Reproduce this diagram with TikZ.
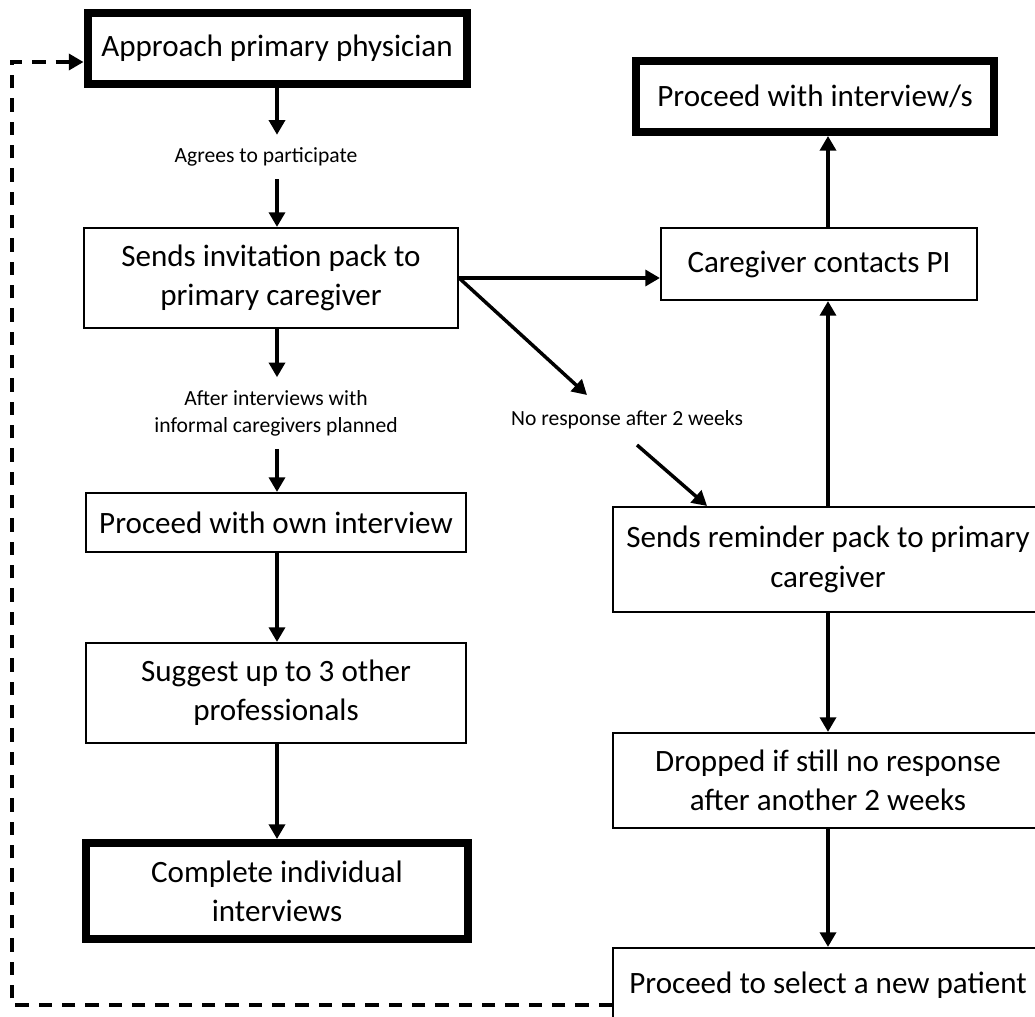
\documentclass[tikz,border=0pt]{standalone}
\usepackage{fontspec}
\setmainfont{Carlito}
\usetikzlibrary{arrows.meta}

\begin{document}
\begin{tikzpicture}[x=0.75pt,y=0.75pt,yscale=-1,xscale=1,
        box/.style={draw,line width=1.6pt,align=center,inner sep=0pt,font=\fontsize{23.3}{29.5}\selectfont},
        thickbox/.style={box,line width=6pt},
        note/.style={align=center,inner xsep=0pt,inner ysep=9.5pt,font=\fontsize{16.2}{20.25}\selectfont},
        conn/.style={line width=2.6pt,-{Triangle[width=12pt,length=11pt]}},
        dashconn/.style={conn,dash pattern=on 10pt off 7.5pt}]
        \useasboundingbox (0,0) rectangle (1035,1017);
        \clip (0,0) rectangle (1035,1017);
        % Left column
        \node [thickbox,minimum width=284.25pt,minimum height=53.25pt] (approach) at (277,48.5) {Approach primary physician};
        % Text Node
        \node [note] (agrees) at (266,157) {Agrees to participate};
        \node [box,minimum width=280.5pt,minimum height=75pt] (invite) at (271,278) {Sends invitation pack to\\primary caregiver};
        % Text Node
        \node [note] (planned) at (276,413) {After interviews with\\informal caregivers planned};
        \node [box,minimum width=285pt,minimum height=44.25pt] (own) at (276,522.5) {Proceed with own interview};
        \node [box,minimum width=285pt,minimum height=75pt] (suggest) at (276,693) {Suggest up to 3 other\\professionals};
        \node [thickbox,minimum width=286.5pt,minimum height=72pt] (complete) at (277,891) {Complete individual\\interviews};
        % Right column
        \node [thickbox,minimum width=268.5pt,minimum height=53.25pt] (interview) at (815,96.5) {Proceed with interview/s};
        \node [box,minimum width=237pt,minimum height=54pt] (contacts) at (819,264) {Caregiver contacts PI};
        % Text Node
        \node [note,inner ysep=0pt] (noresponse) at (627,420) {No response after 2 weeks};
        \node [box,minimum width=322.5pt,minimum height=78.75pt] (reminder) at (828,559.5) {Sends reminder pack to primary\\caregiver};
        \node [box,minimum width=322.5pt,minimum height=71.25pt] (dropped) at (828,780.5) {Dropped if still no response\\after another 2 weeks};
        \node [box,minimum width=322.5pt,minimum height=55.5pt] (newpatient) at (828,985) {Proceed to select a new patient};
        % Free ends
        \coordinate (nrtop) at (587,395);
        \coordinate (nrbottom) at (637,445);
        \coordinate (nrend) at (707,0);
        \coordinate (loopbottom) at (12,1005);
        \coordinate (looptop) at (12,62);
        % Connection
        \draw [conn] (approach.south) -- (approach.south |- agrees.north);
        \draw [conn] (agrees.south -| approach.south) -- (invite.north -| approach.south);
        \draw [conn] (invite.south -| approach.south) -- (approach.south |- planned.north);
        \draw [conn] (planned.south -| approach.south) -- (own.north -| approach.south);
        \draw [conn] (own.south -| approach.south) -- (suggest.north -| approach.south);
        \draw [conn] (suggest.south -| approach.south) -- (complete.north -| approach.south);
        % Connection
        \draw [conn] (invite.east) -- (invite.east -| contacts.west);
        \draw [conn] (invite.east) -- (nrtop);
        \draw [conn] (nrbottom) -- (reminder.north -| nrend);
        % Connection
        \draw [conn] (reminder.north) -- (contacts.south -| reminder.north);
        \draw [conn] (contacts.north -| reminder.north) -- (interview.south -| reminder.north);
        \draw [conn] (reminder.south) -- (dropped.north);
        \draw [conn] (dropped.south) -- (newpatient.north);
        % Connection
        \draw [dashconn] (newpatient.west |- loopbottom) -- (loopbottom) -- (looptop) -- (approach.west |- looptop);
    \end{tikzpicture}
\end{document}
